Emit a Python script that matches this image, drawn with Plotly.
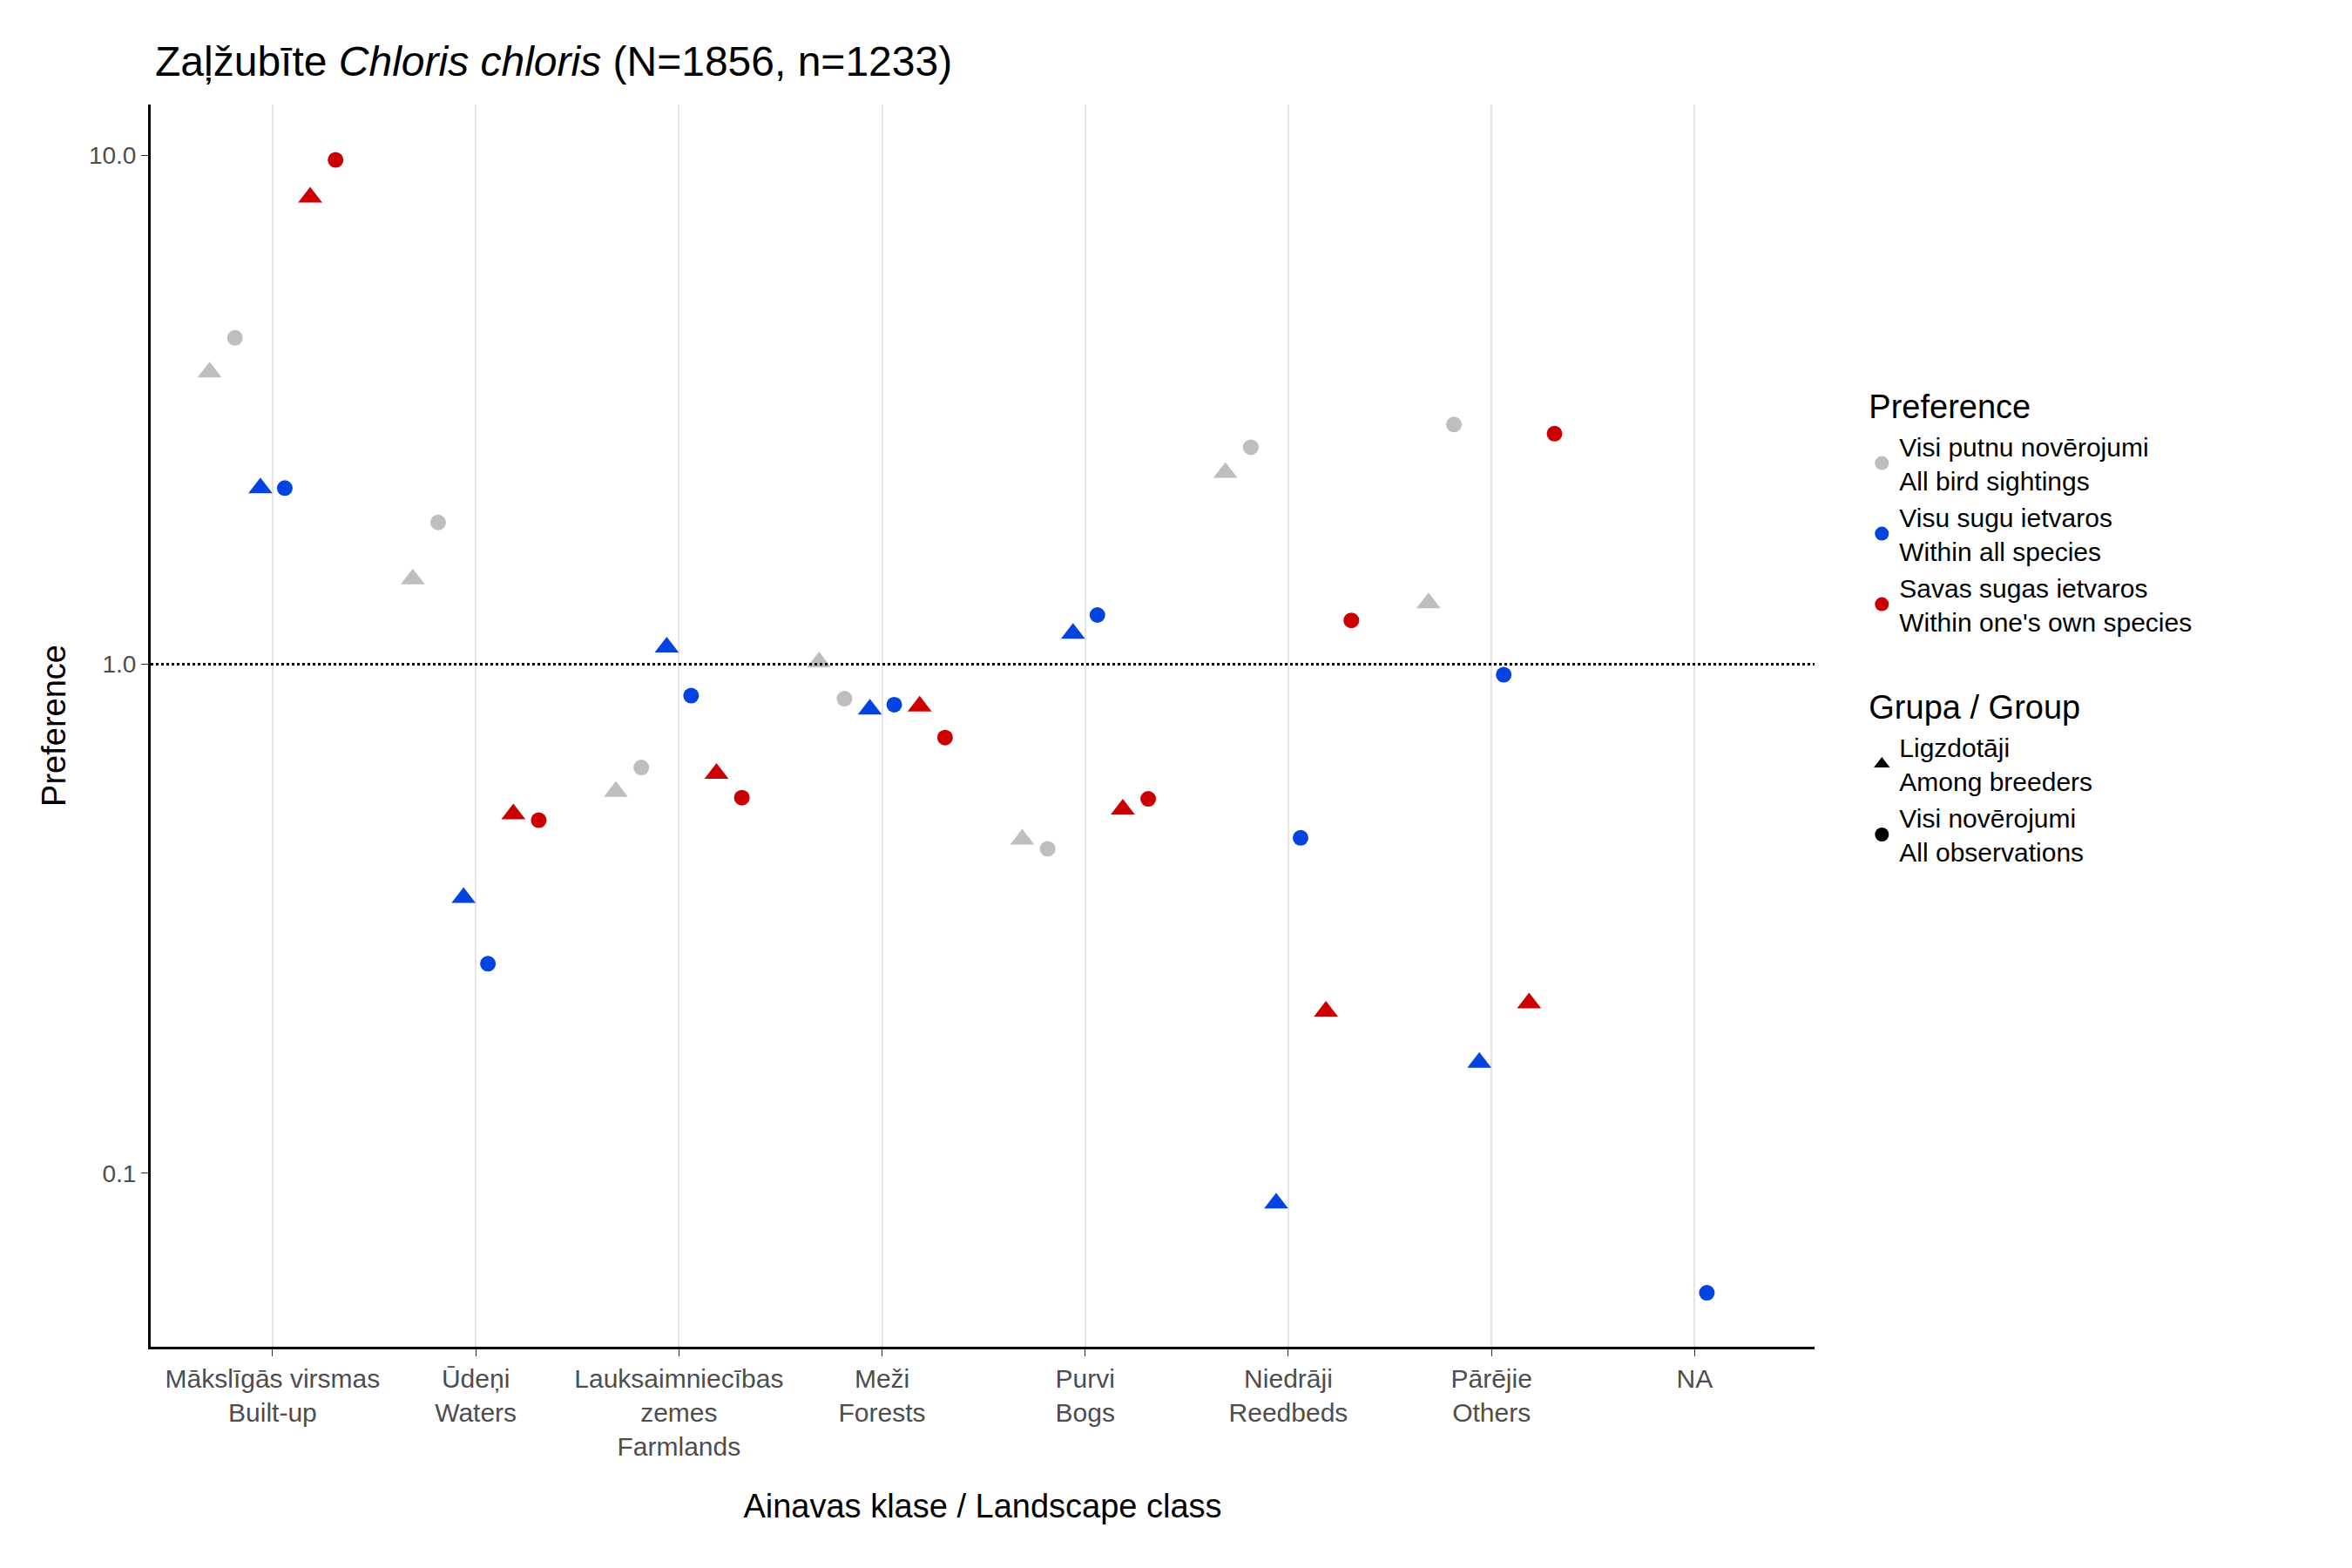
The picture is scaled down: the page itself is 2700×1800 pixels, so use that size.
import plotly.graph_objects as go

categories = ["Mākslīgās virsmas<br>Built-up", "Ūdeņi<br>Waters", "Lauksaimniecības<br>zemes<br>Farmlands",
              "Meži<br>Forests", "Purvi<br>Bogs", "Niedrāji<br>Reedbeds", "Pārējie<br>Others", "NA"]

# values per category (None = missing)
all_breed = [3.75, 1.47, 0.562, 1.01, 0.453, 2.38, 1.32, None]
all_obs = [4.38, 1.90, 0.627, 0.856, 0.434, 2.67, 2.96, None]
species_breed = [2.22, 0.348, 1.08, 0.816, 1.15, 0.0873, 0.165, None]
species_obs = [2.22, 0.258, 0.868, 0.833, 1.25, 0.456, 0.954, 0.0582]
own_breed = [8.27, 0.508, 0.61, 0.827, 0.519, 0.208, 0.216, None]
own_obs = [9.8, 0.494, 0.547, 0.718, 0.544, 1.22, 2.84, None]

GRAY, BLUE, RED = "#bebebe", "#0343df", "#cc0000"
series = [
    (all_breed, -0.31, GRAY, "triangle-up"),
    (all_obs, -0.185, GRAY, "circle"),
    (species_breed, -0.06, BLUE, "triangle-up"),
    (species_obs, 0.06, BLUE, "circle"),
    (own_breed, 0.185, RED, "triangle-up"),
    (own_obs, 0.31, RED, "circle"),
]
SIZES = {"circle": 18, "triangle-up": 24}

fig = go.Figure()
for vals, off, col, sym in series:
    xs = [i + off for i, v in enumerate(vals) if v is not None]
    ys = [v for v in vals if v is not None]
    fig.add_trace(go.Scatter(x=xs, y=ys, mode="markers", showlegend=False,
                             marker=dict(color=col, symbol=sym, size=SIZES[sym])))

# legend entries
pref = [("Visi putnu novērojumi<br>All bird sightings", GRAY),
        ("Visu sugu ietvaros<br>Within all species", BLUE),
        ("Savas sugas ietvaros<br>Within one's own species", RED)]
for i, (lab, col) in enumerate(pref):
    fig.add_trace(go.Scatter(x=[None], y=[None], mode="markers", name=lab, legendgroup="pref",
                             legendgrouptitle=dict(text="Preference", font=dict(size=38)) if i == 0 else None,
                             marker=dict(color=col, symbol="circle", size=16)))
grp = [("Ligzdotāji<br>Among breeders", "triangle-up"), ("Visi novērojumi<br>All observations", "circle")]
for i, (lab, sym) in enumerate(grp):
    fig.add_trace(go.Scatter(x=[None], y=[None], mode="markers", name=lab, legendgroup="grp",
                             legendgrouptitle=dict(text="Grupa / Group", font=dict(size=38)) if i == 0 else None,
                             marker=dict(color="black", symbol=sym, size=16)))

fig.add_hline(y=1, line=dict(color="black", dash="dot", width=3))

fig.update_layout(
    width=2700, height=1800, plot_bgcolor="white", paper_bgcolor="white",
    font=dict(family="Liberation Sans, Arial", size=30, color="black"),
    margin=dict(l=165, r=625, t=112, b=262),
    title=dict(text="Zaļžubīte <i>Chloris chloris</i> (N=1856, n=1233)", x=170/2700, xanchor="left",
               y=0.975, font=dict(size=48)),
    legend=dict(x=1.03, y=0.78, yanchor="top", tracegroupgap=50, itemsizing="trace",
                font=dict(size=30)),
)
fig.update_xaxes(tickvals=list(range(len(categories))), ticktext=categories, range=[-0.6, 7.59],
                 showgrid=True, gridcolor="#e5e5e5", gridwidth=2, zeroline=False,
                 showline=True, linecolor="black", linewidth=3, ticks="outside", ticklen=8,
                 tickcolor="#333", tickfont=dict(color="#4d4d4d", size=30),
                 title=dict(text="Ainavas klase / Landscape class", font=dict(size=38), standoff=40))
fig.update_yaxes(type="log", range=[-1.341, 1.1], showgrid=False, zeroline=False,
                 tickvals=[0.1, 1, 10], ticktext=["0.1", "1.0", "10.0"],
                 showline=True, linecolor="black", linewidth=3, ticks="outside", ticklen=8,
                 tickcolor="#333", tickfont=dict(color="#4d4d4d", size=28),
                 title=dict(text="Preference", font=dict(size=38)))
fig.write_html("out.html")
